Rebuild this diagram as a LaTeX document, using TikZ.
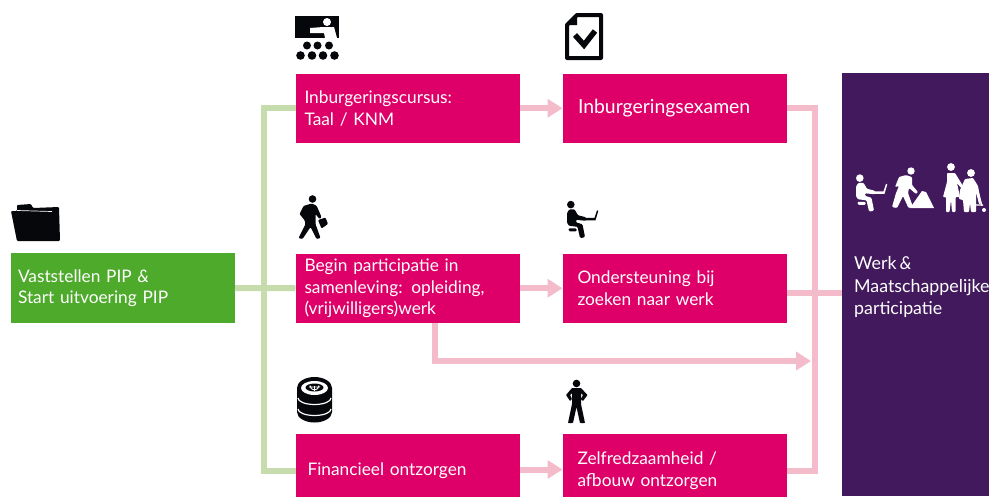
\documentclass[tikz,border=0pt]{standalone}
\usepackage{fontspec}
\setmainfont[WordSpace=0.75]{Lato}
\usetikzlibrary{arrows.meta}
\definecolor{magentabox}{HTML}{DE0068}
\definecolor{greenbox}{HTML}{4DAA2A}
\definecolor{purplebox}{HTML}{42195C}
\definecolor{lightgreen}{HTML}{C6DCAD}
\definecolor{lightpink}{HTML}{F4BCCB}
\definecolor{iconblack}{HTML}{05070B}
\tikzset{
  basebox/.style={anchor=north west,outer sep=0pt,inner ysep=0pt,text=white,align=left,
    font=\fontsize{17.3}{21.6}\selectfont,inner xsep=#1,text width={\dimexpr224pt-#1*2\relax},minimum height=69.5pt},
  pinkbox/.style={basebox=#1,fill=magentabox},
  greenstart/.style={basebox=#1,fill=greenbox},
  lowbox/.style={minimum height=74pt},
  greenline/.style={draw=lightgreen,line width=6pt},
  pinkline/.style={draw=lightpink,line width=6pt},
  pinkarrow/.style={pinkline,-{Triangle[length=15pt,width=18pt]}},
  seated/.pic={
    \fill (3.8,3.8) circle (3.8);
    \fill[rounded corners=1pt] (0,12) -- (2.5,8.5) -- (7.5,8.5) -- (11,14.5) -- (19,16.5) -- (19,20) -- (9,19) -- (9,21.5) -- (15.5,23.5) -- (18,36) -- (16,37) -- (13,37) -- (10.5,26) -- (2,25) -- (0,22) -- cycle;
    \fill[rounded corners=1pt] (1.5,27.5) -- (9.5,27.5) -- (9.5,30.5) -- (2,30.5) -- cycle;
    \fill (18,17) -- (27.5,17) -- (30,9.5) -- (31.3,10) -- (28.5,19.5) -- (18,19.5) -- cycle;
  },
  walker/.pic={
    \fill (14,4) circle (3.8);
    \fill[rounded corners=1pt] (5,11) -- (13,8.5) -- (18,10.5) -- (23,22) -- (21,24) -- (17,19) -- (17,29) -- (22,43) -- (18,44) -- (12,32) -- (4,44) -- (0,43) -- (7,29) -- (6,25) -- (1,19) -- cycle;
    \fill[rounded corners=1pt] (19.5,25) -- (27,22.5) -- (29.5,29) -- (23,33.5) -- cycle;
  },
  standing/.pic={
    \fill (10.5,3.5) circle (3.8);
    \fill[rounded corners=.6pt] (6,8) -- (15,8) -- (21.5,15) -- (17,21) -- (15,19) -- (17,15) -- (15,13) -- (15,24) -- (19,43) -- (14,43) -- (10.5,27) -- (7,43) -- (2,43) -- (6,24) -- (6,13) -- (4,15) -- (6,19) -- (4,21) -- (0,15) -- cycle;
  }
}
\begin{document}
\begin{tikzpicture}[x=1pt,y=-1pt]
\useasboundingbox (0,0) rectangle (989,496);
\clip (0,0) rectangle (989,496);

% boxes
\node[greenstart=7pt] (start) at (11,253.3) {Vaststellen PIP \textit{\&}\\Start uitvoering PIP};
\node[pinkbox=9pt] (kurs) at (295.5,73.5) {Inburgeringscursus:\\Taal / KNM};
\node[pinkbox=15.5pt,font=\fontsize{19.4}{22}\selectfont] (exam) at (562.5,73.5) {Inburgeringsexamen};
\node[pinkbox=9pt] (part) at (295.5,253.5) {Begin participatie in\\samenleving: opleiding,\\(vrijwilligers)werk};
\node[pinkbox=15pt] (onder) at (562.5,253.5) {Ondersteuning bij\\zoeken naar werk};
\node[pinkbox=12pt,lowbox] (fin) at (295.5,433.5) {Financieel ontzorgen};
\node[pinkbox=15pt,lowbox] (zelf) at (562.5,433.5) {Zelfredzaamheid /\\afbouw ontzorgen};
\node[anchor=north west,fill=purplebox,minimum width=147pt,minimum height=423pt,inner sep=0pt,outer sep=0pt] (goal) at (842,73) {};
\node[anchor=north west,text=white,inner sep=0pt,align=left,font=\fontsize{17.8}{22.8}\selectfont] (goaltext) at (854,256) {Werk \textit{\&}\\Maatschappelijke\\participatie};

% connectors
\coordinate (gtrunk) at (264,288);
\coordinate (ptrunk) at (815,288);
\coordinate (branch) at (435,361);
\coordinate (arrowend) at (811,361);
\draw[greenline] (kurs.west) -| (gtrunk) |- (fin.west);
\draw[greenline] (start.east) -- (part.west);
\draw[pinkline] (exam.east) -| (ptrunk) |- (zelf.east);
\draw[pinkline] ([yshift=-5pt]onder.east) -- ([yshift=-5pt]onder.east -| goal.west);
\draw[pinkarrow] (kurs.east) -- (exam.west);
\draw[pinkarrow] (part.east) -- (onder.west);
\draw[pinkarrow] ([yshift=1pt]fin.east) -- ([yshift=1pt]zelf.west);
\draw[pinkarrow] (part.south -| branch) |- (arrowend);

% icons
\begin{scope}[iconblack]
  % folder
  \fill[rounded corners=1pt] (11,211) -- (17,211) -- (17,205) -- (31,204) -- (33,208) -- (59,207) -- (60,241) -- (17,241) -- cycle;
  \draw[white,line width=.7pt] (17,210.5) -- (52,211.5);
  % teacher
  \fill (295,16) rectangle (339,38);
  \fill[white] (327,22) circle (4);
  \fill[white] (310,28) -- (323,27) -- (334,27) -- (337,38) -- (325,38) -- (324,33) -- (310,33) -- cycle;
  \foreach \px in {307,317.5,329} \fill (\px,45.5) circle (4);
  \foreach \px in {300.5,312,323,334.5} \fill (\px,55.5) circle (4.3);
  % document
  \draw[line width=4pt,line join=round] (577,15) -- (601,15) -- (601,58) -- (567,58) -- (567,25) -- cycle;
  \fill (566,25) -- (577,14) -- (577,25) -- cycle;
  \draw[line width=5.5pt] (575,35) -- (584,45) -- (595,31);
  % figures
  \pic at (298.5,195) {walker};
  \pic at (567,200.8) {seated};
  \pic at (566,380) {standing};
  % coins
  \fill (297,412) arc[start angle=180,end angle=0,x radius=17.5,y radius=10.5] -- (332,388) arc[start angle=0,end angle=-180,x radius=17.5,y radius=11] -- cycle;
  \draw[white,line width=1.2pt] (298,398) arc[start angle=180,end angle=0,x radius=16.5,y radius=6.5];
  \draw[white,line width=1.2pt] (298,409) arc[start angle=180,end angle=0,x radius=16.5,y radius=6.5];
  \fill[white] (314.5,388) ellipse (13.5 and 7);
  \fill (314.5,387.5) ellipse (9 and 4);
  \draw[white,line width=.9pt] (310,385.5) arc[start angle=180,end angle=0,radius=4.5] (309,387) -- (320,387) (314.5,386) -- (314.5,391);
\end{scope}
% purple panel icons
\begin{scope}[white]
  \pic at (856,174.3) {seated};
  % worker
  \fill (911,171) circle (3.7);
  \fill[rounded corners=1pt] (899,177) -- (906,175) -- (912,177) -- (912,185) -- (918,192) -- (916,194) -- (909,188) -- (908,193) -- (913,207) -- (908.5,208) -- (903,196) -- (897,208) -- (892,207) -- (896,193) -- (899,186) -- (895,187) -- cycle;
  \fill (910,208) -- (922,191) -- (926,192) -- (934,208) -- cycle;
  % woman and elder
  \fill (951,167) circle (3.9);
  \fill[rounded corners=.8pt] (947,173) -- (955,173) -- (963,186) -- (961,188) -- (957,183) -- (960,197) -- (955.5,197) -- (955.5,212) -- (952,212) -- (951,200) -- (949.5,212) -- (946,212) -- (946,197) -- (943,197) -- (947,182) -- cycle;
  \fill (971,173) circle (3.9);
  \fill[rounded corners=.8pt] (965,179) -- (973,178) -- (978,186) -- (981,204) -- (979,204) -- (976,192) -- (976,212) -- (971,212) -- (970,203) -- (969,212) -- (964,212) -- (963,200) -- (959,199) -- (960,190) -- cycle;
  \draw[line width=1.2pt] (977,187) -- (982,206) (975,205) -- (983,205);
  \fill (974,210) circle (2) (984,210) circle (2);
\end{scope}
\end{tikzpicture}
\end{document}
